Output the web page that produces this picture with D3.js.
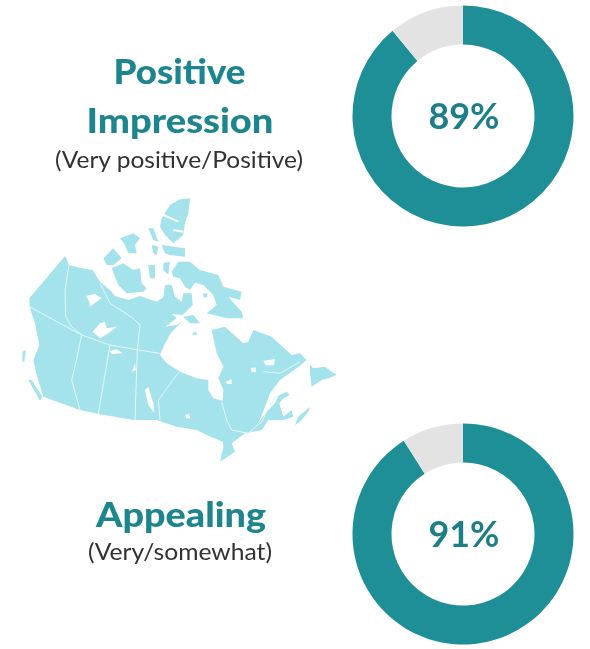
<!DOCTYPE html>
<html><head><meta charset="utf-8">
<script src="https://cdn.jsdelivr.net/npm/d3@7/dist/d3.min.js"></script>
<style>html,body{margin:0;padding:0;background:#fff}svg{display:block}text{font-family:Lato,"Open Sans",sans-serif}</style>
</head><body><svg id="c" width="590" height="649"></svg>
<script>
// Donut values
const metrics = ["Positive Impression", "Appealing"];
const positive = [89, 91];
const remainder = [11, 9];
const valueLabels = ["89%", "91%"];

// Map shapes in map units
const mainland = [[88,325],[195,198],[207,225],[245,235],[278,240],[300,275],[330,300],[345,318],[385,330],[420,318],[470,335],[490,322],[495,285],[515,285],[525,320],[545,335],[550,310],[575,310],[578,345],[548,375],[515,372],[530,385],[495,410],[530,405],[545,395],[512,430],[490,470],[480,495],[500,520],[540,545],[590,565],[625,570],[625,600],[640,625],[668,632],[670,600],[655,565],[670,530],[650,490],[635,420],[675,410],[730,460],[745,455],[760,420],[815,440],[875,495],[900,490],[920,510],[890,535],[840,570],[810,610],[795,650],[775,700],[800,665],[825,640],[835,618],[860,605],[870,615],[850,625],[838,640],[850,680],[875,660],[880,680],[850,690],[805,690],[785,720],[735,730],[695,760],[705,785],[660,815],[670,770],[668,755],[620,735],[590,720],[530,710],[470,690],[400,690],[295,672],[240,660],[130,620],[110,555],[100,510],[118,465],[105,400],[90,355]];
const islands = [
 [[930,525],[940,535],[975,530],[995,545],[1010,555],[985,565],[965,570],[935,590],[930,550]],
 [[885,705],[895,680],[930,650],[925,665],[900,695]],
 [[85,570],[95,570],[127,620],[120,632]],
 [[68,485],[78,480],[73,515],[67,515]],
 [[570,25],[565,70],[555,100],[550,135],[520,160],[495,135],[480,110],[485,85],[510,45],[540,28]],
 [[485,165],[555,175],[555,200],[510,195],[495,190]],
 [[360,145],[400,130],[420,145],[405,165],[410,190],[385,190],[375,165]],
 [[445,115],[460,115],[475,155],[460,150]],
 [[455,165],[475,170],[470,195],[460,190]],
 [[310,205],[340,175],[365,205],[340,225],[320,225]],
 [[335,235],[370,220],[400,240],[420,235],[425,280],[440,295],[430,305],[380,310],[355,285],[345,260]],
 [[445,225],[465,225],[465,265],[450,265]],
 [[490,220],[510,215],[505,255],[490,240]],
 [[515,245],[535,215],[570,215],[600,240],[655,255],[670,290],[725,305],[720,330],[685,320],[725,365],[730,385],[680,385],[620,370],[650,345],[640,315],[610,285],[585,278],[570,300],[555,290],[540,265],[520,260]],
 [[550,380],[580,375],[600,400],[570,400]],
 [[578,428],[590,425],[590,435],[578,435]],
 [[610,310],[622,310],[622,322],[610,322]]
];
const lakes = [
 [[258,318],[285,312],[305,325],[290,335],[270,350],[268,335]],
 [[278,425],[300,400],[315,395],[320,415],[350,410],[325,430],[300,445]],
 [[328,483],[350,478],[368,490],[335,492]],
 [[395,545],[405,520],[408,540]],
 [[435,600],[445,590],[460,640],[463,668],[445,645]],
 [[555,675],[568,672],[570,685],[558,685]],
 [[678,575],[695,568],[695,582],[682,582]],
 [[752,535],[766,532],[768,545],[755,547]],
 [[790,512],[825,508],[822,526],[797,526]],
 [[645,535],[652,532],[652,542],[645,542]]
];
const inlets = [
 [[490,75],[535,95]],
 [[520,120],[550,125]]
];
const borders = [
 [[207,225],[195,300],[197,380],[215,410],[245,435]],
 [[88,350],[245,435],[330,465],[415,480],[480,490]],
 [[245,435],[225,530],[215,570],[240,660]],
 [[330,465],[295,672]],
 [[412,480],[405,690]],
 [[300,280],[330,340],[400,385],[420,405],[412,480]],
 [[535,548],[475,630],[480,690]],
 [[665,635],[680,690],[695,720],[745,730],[785,695],[820,625],[855,605]],
 [[790,545],[840,550],[900,515]]
];

const svg = d3.select("#c");
const mapX = d3.scaleLinear().domain([0,1050]).range([0,350]);
const mapY = d3.scaleLinear().domain([0,840]).range([190,470]);
const shape = d3.line().x(d=>mapX(d[0])).y(d=>mapY(d[1])).curve(d3.curveLinearClosed);
const stroke = d3.line().x(d=>mapX(d[0])).y(d=>mapY(d[1]));

const defs = svg.append("defs");
defs.append("filter").attr("id","soft").append("feGaussianBlur").attr("stdDeviation",0.6);
defs.append("filter").attr("id","softText").append("feGaussianBlur").attr("stdDeviation",0.35);
const map = svg.append("g").attr("filter","url(#soft)");
const landFill = "#a4e3ec";
map.selectAll("path.land").data([mainland,...islands]).join("path").attr("class","land").attr("d",shape).attr("fill",landFill);
map.selectAll("path.lake").data(lakes).join("path").attr("class","lake").attr("d",shape).attr("fill","#fff");
map.selectAll("path.inlet").data(inlets).join("path").attr("class","inlet").attr("d",stroke).attr("fill","none").attr("stroke","#fff").attr("stroke-width",2);
map.selectAll("path.border").data(borders).join("path").attr("class","border").attr("d",stroke).attr("fill","none").attr("stroke","#e4f7f9").attr("stroke-width",1);

// Donuts
const centers = [[463,116],[463,534]];
const pie = d3.pie().sort(null);
const arc = d3.arc().innerRadius(71.5).outerRadius(110.5);
const sliceColors = ["#1f8f97","#e3e3e3"];
metrics.forEach((m,i)=>{
  const g = svg.append("g").attr("transform",`translate(${centers[i]})`);
  g.selectAll("path").data(pie([positive[i],remainder[i]])).join("path")
    .attr("d",arc).attr("fill",(d,j)=>sliceColors[j]);
  g.append("text").attr("text-anchor","middle").attr("x",1).attr("y",13).attr("filter","url(#softText)")
    .attr("font-size",37).attr("font-weight",700).attr("fill","#1f7f87")
    .attr("textLength",71).attr("lengthAdjust","spacingAndGlyphs").text(valueLabels[i]);
});

// Titles
const titles = [
 {t:"Positive",x:179.5,y:84,w:132,s:35,b:1,c:"#1f858d"},
 {t:"Impression",x:180,y:133,w:187,s:35,b:1,c:"#1f858d"},
 {t:"(Very positive/Positive)",x:179,y:168,w:248,s:24,b:0,c:"#333"},
 {t:"Appealing",x:181,y:527,w:170,s:35,b:1,c:"#1f858d"},
 {t:"(Very/somewhat)",x:180,y:560,w:184,s:24,b:0,c:"#333"}
];
svg.selectAll("text.title").data(titles).join("text").attr("class","title")
  .attr("text-anchor","middle").attr("x",d=>d.x).attr("y",d=>d.y).attr("filter","url(#softText)")
  .attr("font-size",d=>d.s).attr("font-weight",d=>d.b?900:400).attr("fill",d=>d.c)
  .attr("textLength",d=>d.w).attr("lengthAdjust","spacingAndGlyphs").text(d=>d.t);
</script></body></html>
